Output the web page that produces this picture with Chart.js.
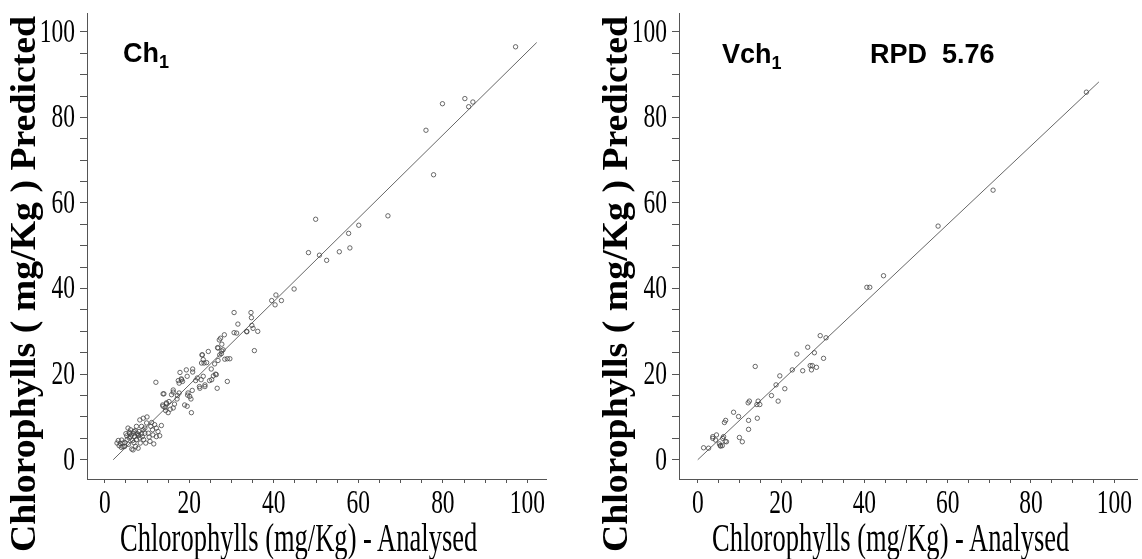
<!DOCTYPE html>
<html>
<head>
<meta charset="utf-8">
<script src="https://cdn.jsdelivr.net/npm/chart.js@4.4.1/dist/chart.umd.min.js"></script>
<style>
    body { margin: 0; background: #fff; }
    #wrap { position: relative; width: 1142px; height: 559px; overflow: hidden; }
    canvas { position: absolute; top: 0; }
    .ytitle {
        position: absolute; width: 600px; height: 40px; line-height: 40px;
        font: bold 36px "Liberation Serif", serif; text-align: center;
        white-space: nowrap; color: #000; transform: rotate(-90deg) scaleX(1.05);
    }
    .xtitle {
        position: absolute; height: 39px; line-height: 39px;
        font: 39px "Liberation Serif", serif; white-space: nowrap; color: #000;
        transform: scaleX(0.68); transform-origin: 0 0;
    }
    .panel {
        position: absolute; font: bold 27px "Liberation Sans", Arial, sans-serif;
        line-height: 27px; white-space: pre; color: #000;
    }
    .panel span { font-size: 18px; position: relative; top: 6px; }
</style>
</head>
<body>
<div id="wrap">
    <canvas id="ch1-chart" width="570" height="559" style="left:0"></canvas>
    <canvas id="vch1-chart" width="572" height="559" style="left:570px"></canvas>

    <div class="ytitle" style="left:-278px; top:264px">Chlorophylls ( mg/Kg ) Predicted</div>
    <div class="ytitle" style="left:314px; top:264px">Chlorophylls ( mg/Kg ) Predicted</div>
    <div class="xtitle" style="left:119.5px; top:515px">Chlorophylls (mg/Kg) - Analysed</div>
    <div class="xtitle" style="left:711.5px; top:515px">Chlorophylls (mg/Kg) - Analysed</div>

    <div class="panel" style="left:123px; top:40px">Ch<span>1</span></div>
    <div class="panel" style="left:722px; top:41px">Vch<span>1</span></div>
    <div class="panel" style="left:870px; top:41px">RPD  5.76</div>
</div>

<script>
// Calibration set (Ch1): analysed vs predicted
const ch1Analysed = [
    2.9, 3.4, 3.9, 4.3, 4.3, 4.8, 5.0, 5.3, 5.5, 5.8, 5.9, 6.1, 6.3, 6.6, 6.4, 6.9, 7.1, 7.3, 7.5, 7.7,
    7.9, 8.1, 8.3, 8.3, 8.4, 8.7, 8.9, 9.1, 9.1, 9.2, 9.5, 9.7, 9.9, 10.0, 10.3, 10.5, 10.7, 10.9, 11.1, 11.3,
    11.4, 11.6, 11.8, 12.2, 12.6, 13.0, 13.4, 6.1, 6.9, 4.7, 7.9, 6.7, 5.8, 7.5, 9.5, 8.7, 12.2,
    3.2, 4.0, 5.2, 6.8, 7.2, 8.0, 5.6, 3.7,
    12.1, 14.0, 13.7, 14.6, 15.2, 15.8, 16.2, 15.5, 14.4, 13.8, 15.0, 16.2, 17.1, 17.6, 17.8, 18.2, 18.4, 18.9, 19.3, 19.5,
    19.5, 19.7, 20.1, 20.4, 20.5, 20.8, 20.8, 21.9, 22.5, 22.9, 23.3, 23.7, 23.1, 23.3, 24.1, 24.5, 25.3, 25.7, 26.4, 26.6,
    26.0, 26.8, 27.2, 26.8, 27.1, 27.4, 28.3, 28.0, 27.6, 28.4, 29.0, 29.6, 29.0, 30.6, 31.5, 30.6, 31.2, 33.6, 34.6, 34.7,
    35.1, 34.8, 36.2, 35.4, 39.5, 40.5, 41.8, 40.3,
    17.4, 18.1, 17.6, 22.4, 23.7, 24.8, 21.5, 22.8, 20.7, 17.2, 16.2, 19.6, 14.6, 13.8, 27.7, 26.7, 27.7, 23.0, 23.5, 25.2,
    26.2, 33.6, 14.3, 16.5,
    44.8, 48.2, 49.9, 50.8, 52.5, 55.5, 57.7, 58.0, 60.1, 67.0, 76.0, 77.8, 79.9, 85.2, 86.1, 87.1, 97.2
];
const ch1Predicted = [
    3.9, 3.3, 2.9, 3.1, 3.9, 4.0, 6.1, 4.7, 7.4, 6.4, 6.1, 5.4, 5.8, 4.5, 2.5, 4.0, 5.4, 3.1, 7.8, 6.1,
    5.6, 6.6, 9.3, 5.1, 3.9, 6.1, 5.4, 9.7, 7.0, 4.7, 7.4, 3.9, 8.6, 10.0, 6.2, 5.3, 4.3, 7.8, 8.7, 7.0,
    5.8, 3.7, 8.2, 5.4, 6.6, 5.6, 8.0, 7.0, 6.6, 3.1, 2.7, 2.3, 5.1, 4.7, 6.2, 7.8, 7.4,
    4.5, 4.6, 5.6, 6.2, 6.8, 5.8, 3.6, 3.8,
    18.1, 15.4, 12.8, 13.1, 13.6, 15.2, 12.1, 11.8, 11.5, 12.5, 11.0, 16.3, 14.2, 15.6, 20.4, 18.7, 18.3, 12.8, 21.0, 12.5,
    19.5, 15.6, 14.8, 14.2, 11.0, 21.2, 20.5, 19.1, 16.7, 22.6, 19.5, 17.1, 24.5, 23.4, 22.7, 25.3, 18.7, 19.6, 19.9, 16.7,
    22.4, 23.2, 24.5, 26.1, 28.0, 28.4, 29.2, 25.7, 24.8, 23.5, 23.6, 23.6, 18.3, 34.4, 31.7, 29.7, 29.6, 29.9, 34.4, 33.2,
    30.7, 31.4, 30.0, 25.5, 37.2, 38.5, 37.2, 36.2,
    18.5, 18.9, 17.9, 17.1, 17.5, 18.5, 18.5, 18.7, 16.2, 15.0, 15.8, 15.1, 13.3, 15.4, 27.0, 26.2, 25.4, 24.5, 22.6, 21.2,
    20.0, 30.0, 12.2, 13.0,
    39.9, 48.4, 56.2, 47.8, 46.6, 48.6, 52.9, 49.5, 54.8, 57.0, 77.0, 66.6, 83.2, 84.4, 82.5, 83.6, 96.5
];
const ch1FitX = [2.0, 102.2];
const ch1FitY = [0, 97.5];

// Validation set (Vch1)
const vch1Analysed = [
    93.3, 70.9, 57.7, 44.6, 40.6, 41.3, 29.4, 30.8, 26.4, 23.8, 28.0, 30.2, 27.0, 27.5, 28.5, 27.3, 22.7, 25.2, 13.8, 19.7,
    18.8, 20.9, 17.7, 19.3, 12.4, 12.1, 14.5, 14.2, 14.9, 14.3, 8.6, 9.8, 12.2, 12.2, 6.7, 6.4, 6.2, 10.0, 10.7, 4.5,
    3.6, 3.6, 4.3, 6.0, 6.6, 6.9, 5.4, 5.5, 5.9, 1.4, 2.6, 5.2
];
const vch1Predicted = [
    85.9, 63.0, 54.6, 43.0, 40.3, 40.3, 29.0, 28.5, 26.3, 24.7, 25.0, 23.7, 22.0, 22.0, 21.6, 21.0, 21.0, 20.8, 21.8, 19.6,
    17.5, 16.6, 15.0, 13.7, 13.7, 13.3, 13.7, 12.9, 12.9, 9.7, 11.1, 10.1, 9.2, 7.1, 9.2, 8.7, 5.4, 5.2, 4.2, 5.8,
    5.4, 5.0, 4.6, 5.0, 4.3, 4.2, 3.3, 3.2, 3.3, 2.8, 2.7, 3.7
];
const vch1FitX = [0, 96.3];
const vch1FitY = [0, 88.3];

// axis ticks: marks every 5, labels every 20
const tickValues = [0, 5, 10, 15, 20, 25, 30, 35, 40, 45, 50, 55, 60, 65, 70, 75, 80, 85, 90, 95, 100];
const tickLabels = [0, 20, 40, 60, 80, 100];

const toPoints = (xs, ys) => xs.map((x, i) => ({ x: x, y: ys[i] }));

// tick labels in a narrow Times look (the original uses a condensed serif)
const condensedTicks = {
    id: 'condensedTicks',
    afterDraw(chart) {
        const ctx = chart.ctx;
        const xScale = chart.scales.x;
        const yScale = chart.scales.y;
        ctx.save();
        ctx.fillStyle = '#000';
        ctx.font = '34px "Liberation Serif"';
        tickLabels.forEach(v => {
            ctx.save();
            ctx.translate(xScale.getPixelForValue(v), xScale.top + 34);
            ctx.scale(0.69, 1);
            ctx.textAlign = 'center';
            ctx.textBaseline = 'alphabetic';
            ctx.fillText(String(v), 0, 0);
            ctx.restore();

            ctx.save();
            ctx.translate(yScale.right - 12, yScale.getPixelForValue(v) + 1);
            ctx.scale(0.69, 1);
            ctx.textAlign = 'right';
            ctx.textBaseline = 'middle';
            ctx.fillText(String(v), 0, 0);
            ctx.restore();
        });
        ctx.restore();
    }
};

function axisOptions(min, max, tickLength, fitSize, horizontal) {
    return {
        type: 'linear',
        min: min,
        max: max,
        afterBuildTicks: axis => { axis.ticks = tickValues.map(v => ({ value: v })); },
        afterFit: axis => {
            if (horizontal) axis.height = fitSize; else axis.width = fitSize;
        },
        ticks: { display: false },
        grid: {
            display: true,
            drawOnChartArea: false,
            drawTicks: true,
            tickLength: tickLength,
            tickColor: '#555',
            color: '#555'
        },
        border: { display: true, color: '#555', width: 1 }
    };
}

function makeChart(canvasId, analysed, predicted, fitX, fitY, xMin, xMax, yAxisWidth, rightPad) {
    const ctx = document.getElementById(canvasId).getContext('2d');
    return new Chart(ctx, {
        type: 'scatter',
        data: {
            datasets: [{
                label: 'samples',
                data: toPoints(analysed, predicted),
                pointStyle: 'circle',
                pointRadius: 2.2,
                pointBorderWidth: 0.8,
                borderColor: '#444',
                backgroundColor: 'rgba(0,0,0,0)'
            }, {
                label: 'fit',
                type: 'line',
                data: toPoints(fitX, fitY),
                borderColor: '#666',
                borderWidth: 1,
                pointRadius: 0,
                fill: false
            }]
        },
        options: {
            responsive: false,
            animation: false,
            devicePixelRatio: 1,
            layout: { padding: { top: 13, right: rightPad, left: 0, bottom: 0 } },
            plugins: {
                legend: { display: false },
                tooltip: { enabled: false }
            },
            scales: {
                x: axisOptions(xMin, xMax, 4, 80, true),
                y: axisOptions(-4.5, 104.4, 7, yAxisWidth, false)
            }
        },
        plugins: [condensedTicks]
    });
}

makeChart('ch1-chart', ch1Analysed, ch1Predicted, ch1FitX, ch1FitY, -4.2, 104.4, 87, 24);
makeChart('vch1-chart', vch1Analysed, vch1Predicted, vch1FitX, vch1FitY, -4.5, 105.5, 109, 0);
</script>
</body>
</html>
